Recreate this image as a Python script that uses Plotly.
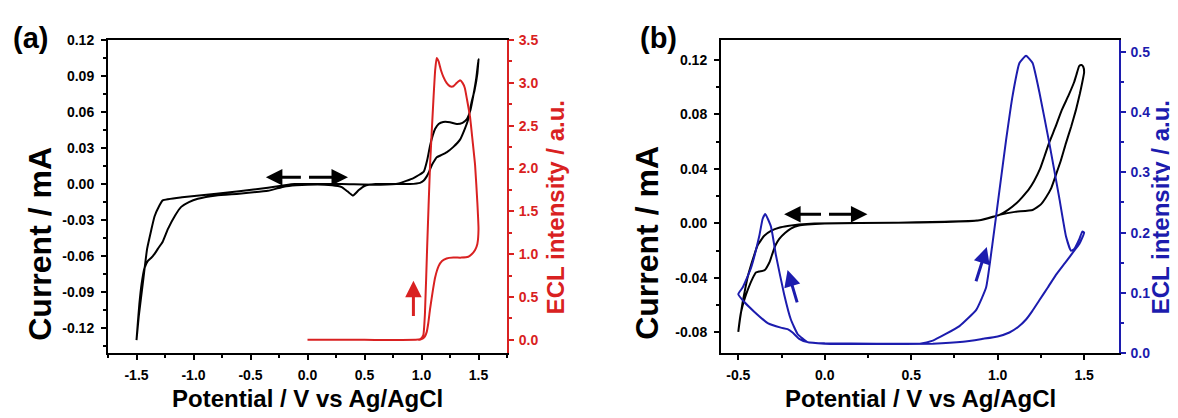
import plotly.graph_objects as go

# ---------------- data: panel (a) ----------------
cv_a_x = [0.0, 0.3, 0.64, 0.8, 0.93, 1.02, 1.05, 1.075, 1.1, 1.12, 1.15, 1.19, 1.25, 1.31, 1.36, 1.40, 1.43, 1.455, 1.48, 1.5,
          1.49, 1.465, 1.441, 1.41, 1.38, 1.338, 1.28, 1.22, 1.17, 1.134, 1.11, 1.09, 1.07, 1.046, 1.02, 0.987, 0.9, 0.783, 0.6,
          0.5, 0.45, 0.40, 0.35, 0.3, 0.267, 0.15, 0.0, -0.1, -0.2, -0.347, -0.6, -0.8, -0.962, -1.04, -1.108, -1.16, -1.225,
          -1.27, -1.313, -1.34, -1.372, -1.40, -1.43, -1.455, -1.475, -1.5,
          -1.48, -1.445, -1.407, -1.37, -1.342, -1.3, -1.27, -1.1, -0.8, -0.6, -0.347, -0.2, -0.114, 0.0]
cv_a_y = [0.0, 0.0, -0.0005, 0.0005, 0.005, 0.0104, 0.02, 0.032, 0.041, 0.046, 0.050, 0.0517, 0.0515, 0.050, 0.051, 0.0544, 0.062, 0.074, 0.088, 0.104,
          0.092, 0.078, 0.069, 0.054, 0.046, 0.037, 0.031, 0.0264, 0.024, 0.0224, 0.019, 0.0157, 0.011, 0.0064, 0.003, 0.001, 0.0, 0.0, 0.0,
          -0.0016, -0.005, -0.0096, -0.006, -0.0025, -0.0016, -0.0005, -0.0005, -0.001, -0.002, -0.0056, -0.008, -0.0095, -0.0123, -0.015, -0.019, -0.026, -0.0376,
          -0.048, -0.054, -0.058, -0.0616, -0.064, -0.07, -0.083, -0.10, -0.13,
          -0.11, -0.083, -0.054, -0.038, -0.027, -0.018, -0.0136, -0.011, -0.008, -0.006, -0.003, -0.001, 0.0, 0.0]

ecl_a_x = [0.0, 0.5, 0.95, 0.99, 1.016, 1.03, 1.05, 1.075, 1.104, 1.12, 1.133, 1.15, 1.17, 1.192, 1.22, 1.25, 1.28, 1.31, 1.338, 1.36,
           1.38, 1.40, 1.426, 1.45, 1.47, 1.49, 1.5, 1.49, 1.47, 1.44, 1.41, 1.35, 1.28, 1.22, 1.18, 1.15, 1.12, 1.1, 1.075, 1.06,
           1.046, 1.03, 1.016, 0.99, 0.97]
ecl_a_y = [0.0, 0.0, 0.0, 0.01, 0.056, 0.3, 1.1, 2.04, 2.79, 3.15, 3.29, 3.25, 3.15, 3.07, 3.0, 2.96, 2.96, 3.0, 3.03, 3.0,
           2.94, 2.8, 2.60, 2.3, 2.04, 1.6, 1.29, 1.12, 1.05, 1.0, 0.97, 0.96, 0.96, 0.95, 0.92, 0.86, 0.73, 0.58, 0.36, 0.2,
           0.093, 0.04, 0.02, 0.005, 0.0]

# ---------------- data: panel (b) ----------------
cv_b_x = [0.0, -0.1, -0.15, -0.196, -0.23, -0.263, -0.285, -0.302, -0.318, -0.330, -0.345, -0.359, -0.38, -0.398, -0.42, -0.446, -0.465, -0.484, -0.495, -0.5,
          -0.49, -0.475, -0.46, -0.446, -0.415, -0.388, -0.35, -0.311, -0.26, -0.215, -0.15, -0.06, 0.4, 0.7, 0.895, 1.01, 1.1, 1.202, 1.25, 1.28,
          1.31, 1.337, 1.365, 1.395, 1.425, 1.452, 1.475, 1.49, 1.5, 1.495, 1.485, 1.472, 1.455, 1.443, 1.41, 1.37, 1.335, 1.30, 1.27, 1.245,
          1.21, 1.18, 1.14, 1.11, 1.06, 1.01, 0.895, 0.4, 0.0]
cv_b_y = [0.0, -0.0007, -0.0015, -0.0037, -0.007, -0.0113, -0.016, -0.0219, -0.028, -0.031, -0.034, -0.0348, -0.0352, -0.036, -0.041, -0.049, -0.056, -0.065, -0.074, -0.0795,
          -0.07, -0.058, -0.048, -0.0395, -0.026, -0.016, -0.009, -0.0054, -0.003, -0.0019, -0.0008, 0.0, 0.0005, 0.001, 0.0023, 0.0063, 0.0085, 0.0099, 0.014, 0.0193,
          0.026, 0.0357, 0.046, 0.059, 0.071, 0.083, 0.095, 0.104, 0.111, 0.115, 0.1163, 0.1157, 0.109, 0.104, 0.094, 0.083, 0.071, 0.060, 0.049, 0.040,
          0.031, 0.025, 0.019, 0.015, 0.010, 0.0063, 0.0023, 0.0005, 0.0]

ecl_b_x = [-0.5, -0.465, -0.408, -0.33, -0.254, -0.215, -0.186, -0.148, -0.1, 0.0, 0.3, 0.55, 0.625, 0.7, 0.779, 0.876, 0.933, 0.971, 1.01, 1.049,
           1.087, 1.126, 1.164, 1.202, 1.241, 1.299, 1.356, 1.395, 1.424, 1.443, 1.472, 1.49, 1.5, 1.49, 1.472, 1.443, 1.39, 1.337, 1.29, 1.241,
           1.2, 1.164, 1.12, 1.068, 1.0, 0.914, 0.8, 0.625, 0.3, 0.0, -0.1, -0.157, -0.196, -0.235, -0.282, -0.311,
           -0.344, -0.359, -0.379, -0.427, -0.475, -0.5]
ecl_b_y = [0.098, 0.085, 0.069, 0.050, 0.0425, 0.040, 0.0345, 0.024, 0.0185, 0.0165, 0.016, 0.016, 0.021, 0.032, 0.045, 0.072, 0.109, 0.184, 0.269, 0.354,
           0.428, 0.481, 0.493, 0.481, 0.433, 0.348, 0.258, 0.194, 0.170, 0.173, 0.189, 0.202, 0.200, 0.192, 0.181, 0.170, 0.150, 0.130, 0.109, 0.088,
           0.070, 0.056, 0.044, 0.0345, 0.028, 0.024, 0.019, 0.016, 0.0155, 0.016, 0.0185, 0.032, 0.056, 0.098, 0.162, 0.21,
           0.231, 0.223, 0.194, 0.141, 0.109, 0.098]

# ---------------- ticks ----------------
xa_vals = [-1.5, -1.0, -0.5, 0.0, 0.5, 1.0, 1.5]
xa_text = ["-1.5", "-1.0", "-0.5", "0.0", "0.5", "1.0", "1.5"]
ya_vals = [-0.12, -0.09, -0.06, -0.03, 0.0, 0.03, 0.06, 0.09, 0.12]
ya_text = ["-0.12", "-0.09", "-0.06", "-0.03", "0.00", "0.03", "0.06", "0.09", "0.12"]
y2a_vals = [0.0, 0.5, 1.0, 1.5, 2.0, 2.5, 3.0, 3.5]
y2a_text = ["0.0", "0.5", "1.0", "1.5", "2.0", "2.5", "3.0", "3.5"]
xb_vals = [-0.5, 0.0, 0.5, 1.0, 1.5]
xb_text = ["-0.5", "0.0", "0.5", "1.0", "1.5"]
yb_vals = [-0.08, -0.04, 0.0, 0.04, 0.08, 0.12]
yb_text = ["-0.08", "-0.04", "0.00", "0.04", "0.08", "0.12"]
y2b_vals = [0.0, 0.1, 0.2, 0.3, 0.4, 0.5]
y2b_text = ["0.0", "0.1", "0.2", "0.3", "0.4", "0.5"]

RED = "#d92121"
BLUE = "#1c1cae"
FONT = "Liberation Sans"

# the page has an 8 px body margin: build the figure 8 px smaller and map
# reference pixel positions through it
OFF = 8
FW, FH = 1178 - OFF, 418 - OFF


def fx(px):
    return (px - OFF) / FW


def fy(py):
    return 1 - (py - OFF) / FH


fig = go.Figure()
fig.add_trace(go.Scatter(x=cv_a_x, y=cv_a_y, xaxis="x", yaxis="y", mode="lines",
                         line=dict(color="black", width=2, shape="spline", smoothing=0.4)))
fig.add_trace(go.Scatter(x=ecl_a_x, y=ecl_a_y, xaxis="x", yaxis="y2", mode="lines",
                         line=dict(color=RED, width=2, shape="spline", smoothing=0.4)))
fig.add_trace(go.Scatter(x=cv_b_x, y=cv_b_y, xaxis="x2", yaxis="y3", mode="lines",
                         line=dict(color="black", width=2, shape="spline", smoothing=0.4)))
fig.add_trace(go.Scatter(x=ecl_b_x, y=ecl_b_y, xaxis="x2", yaxis="y4", mode="lines",
                         line=dict(color=BLUE, width=2, shape="spline", smoothing=0.4)))


def axis(color, vals, text, rng, minor_dtick, standoff=4, **kw):
    d = dict(range=rng, tickmode="array", tickvals=vals, ticktext=text,
             ticks="outside", ticklen=5, tickwidth=1.5, tickcolor=color,
             minor=dict(ticks="outside", ticklen=3, tickwidth=1.5, tickcolor=color,
                        tickmode="linear", tick0=0, dtick=minor_dtick),
             showline=True, linecolor=color, linewidth=2, showgrid=False, zeroline=False,
             tickfont=dict(family=FONT, size=14, color=color, weight="bold"),
             ticklabelstandoff=standoff)
    d.update(kw)
    return d


fig.update_layout(
    width=FW, height=FH, margin=dict(l=0, r=0, t=0, b=0),
    paper_bgcolor="white", plot_bgcolor="white", showlegend=False,
    xaxis=axis("black", xa_vals, xa_text, [-1.75, 1.75], 0.25, standoff=3,
               domain=[fx(108), fx(507)], anchor="y", mirror=True),
    yaxis=axis("black", ya_vals, ya_text, [-0.141, 0.12], 0.015,
               domain=[fy(359), fy(33)], anchor="x"),
    yaxis2=axis(RED, y2a_vals, y2a_text, [-0.157, 3.5], 0.25, standoff=2,
                overlaying="y", side="right", anchor="x"),
    xaxis2=axis("black", xb_vals, xb_text, [-0.6, 1.7], 0.25, standoff=3,
                domain=[fx(721), fx(1118.7)], anchor="y3", mirror=True),
    yaxis3=axis("black", yb_vals, yb_text, [-0.0953, 0.135], 0.02,
                domain=[fy(359), fy(32.5)], anchor="x2"),
    yaxis4=axis(BLUE, y2b_vals, y2b_text, [0.0, 0.52], 0.05, standoff=2,
                overlaying="y3", side="right", anchor="x2"),
)


def label(text, px, py, size, color="black", angle=0):
    fig.add_annotation(text=text, x=fx(px), y=fy(py), xref="paper", yref="paper",
                       xanchor="center", yanchor="middle", showarrow=False, textangle=angle,
                       font=dict(family=FONT, size=size, color=color, weight="bold"))


label("(a)", 30, 31, 29)
label("(b)", 658, 31, 29)
label("Potential / V vs Ag/AgCl", 307, 406, 24)
label("Potential / V vs Ag/AgCl", 920, 406, 24)
label("Current / mA", 40, 245, 32, angle=-90)
label("Current / mA", 647, 244, 32, angle=-90)
label("ECL intensity / a.u.", 555, 207, 24, color=RED, angle=-90)
label("ECL intensity / a.u.", 1160, 207, 24, color=BLUE, angle=-90)


def arrow(xh, yh, xt, yt, xr, yr, color):
    fig.add_annotation(x=xh, y=yh, ax=xt, ay=yt, xref=xr, yref=yr, axref=xr, ayref=yr,
                       text="", showarrow=True, arrowhead=2, arrowsize=1.1, arrowwidth=3,
                       arrowcolor=color)


# panel (a) arrows
arrow(-0.365, 0.0056, -0.045, 0.0056, "x", "y", "black")
arrow(0.355, 0.0056, 0.0, 0.0056, "x", "y", "black")
arrow(0.929, 0.69, 0.929, 0.26, "x", "y2", RED)
# panel (b) arrows
arrow(-0.235, 0.0068, -0.013, 0.0068, "x2", "y3", "black")
arrow(0.247, 0.0068, 0.016, 0.0068, "x2", "y3", "black")
arrow(-0.215, 0.138, -0.157, 0.082, "x2", "y4", BLUE)
arrow(0.937, 0.176, 0.872, 0.117, "x2", "y4", BLUE)

fig.write_html("out.html")
